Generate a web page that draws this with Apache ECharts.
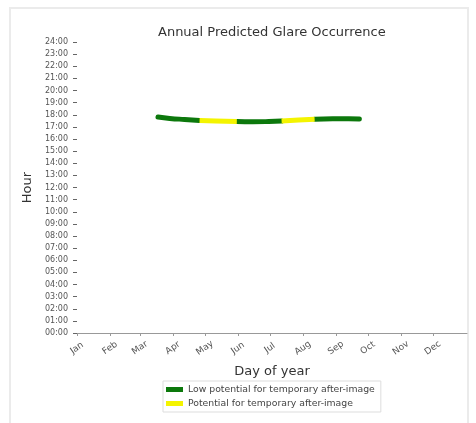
<!DOCTYPE html>
<html><head><meta charset="utf-8">
<script src="https://cdn.jsdelivr.net/npm/echarts@6/dist/echarts.min.js"></script>
<style>html,body{margin:0;padding:0;background:#fff}#c{width:476px;height:423px}</style>
</head><body><div id="c"></div>
<script>
const monthNames = ['Jan','Feb','Mar','Apr','May','Jun','Jul','Aug','Sep','Oct','Nov','Dec'];
const monthStartDays = [0,31,59,90,120,151,181,212,243,273,304,334];
const hourTicks = Array.from({length:25},(_,i)=>i);
// Low potential (green) segments: [day, hour]
const greenSeg1 = [[76,17.81],[87,17.70],[101,17.61],[115,17.53]];
const yellowSeg1 = [[115,17.53],[130,17.48],[150,17.44]];
const greenSeg2 = [[150,17.44],[165,17.42],[180,17.44],[192,17.48]];
const yellowSeg2 = [[192,17.48],[208,17.56],[223,17.63]];
const greenSeg3 = [[223,17.63],[240,17.66],[255,17.66],[265,17.64]];

const greenData = [...greenSeg1, null, ...greenSeg2, null, ...greenSeg3];
const yellowData = [...yellowSeg1, null, ...yellowSeg2];

const chart = echarts.init(document.getElementById('c'));
const GREEN = '#0c780c', YELLOW = '#f4f400';
chart.setOption({
  animation:false,
  backgroundColor:'#fff',
  title:{text:'Annual Predicted Glare Occurrence',left:153,top:21,
    textStyle:{fontFamily:'DejaVu Sans',fontSize:13,fontWeight:'normal',color:'#333'}},
  graphic:[{type:'rect',shape:{x:10,y:8,width:458,height:420},style:{fill:'none',stroke:'#ebebeb',lineWidth:2},z:-1}],
  grid:{left:77,right:9,top:42,bottom:90},
  xAxis:{type:'value',min:0,max:366,
    name:'Day of year',nameLocation:'middle',nameGap:32,
    nameTextStyle:{fontFamily:'DejaVu Sans',fontSize:13,color:'#333'},
    axisLine:{show:true,lineStyle:{color:'#999',width:1}},
    axisTick:{show:true,customValues:monthStartDays,length:3,inside:false,lineStyle:{color:'#999'}},
    axisLabel:{customValues:monthStartDays,rotate:35,align:'center',verticalAlign:'middle',
      fontFamily:'DejaVu Sans',fontSize:9,color:'#555',margin:15,
      formatter:v=>monthNames[monthStartDays.indexOf(v)]},
    splitLine:{show:false}},
  yAxis:{type:'value',min:0,max:24,interval:1,
    name:'Hour',nameLocation:'middle',nameGap:40,nameRotate:90,
    nameTextStyle:{fontFamily:'DejaVu Sans',fontSize:13,color:'#333'},
    axisLine:{show:false},
    axisTick:{show:true,length:4,lineStyle:{color:'#666'}},
    axisLabel:{fontFamily:'DejaVu Sans',fontSize:8,color:'#555',margin:9,
      formatter:v=>String(v).padStart(2,'0')+':00'},
    splitLine:{show:false}},
  legend:{orient:'vertical',left:163,top:381,itemWidth:17,itemHeight:5,itemGap:5,
    padding:[4,6,4,3],borderColor:'#ddd',borderWidth:1,borderRadius:0,
    textStyle:{fontFamily:'DejaVu Sans',fontSize:9.3,color:'#444'},
    data:[{name:'Low potential for temporary after-image',icon:'rect'},
          {name:'Potential for temporary after-image',icon:'rect'}]},
  series:[
    {name:'Low potential for temporary after-image',type:'line',data:greenData,showSymbol:false,
      connectNulls:false,smooth:true,lineStyle:{color:GREEN,width:5,cap:'round'},itemStyle:{color:GREEN},z:2},
    {name:'Potential for temporary after-image',type:'line',data:yellowData,showSymbol:false,
      connectNulls:false,smooth:true,lineStyle:{color:YELLOW,width:5},itemStyle:{color:YELLOW},z:3}
  ]
});
</script></body></html>
